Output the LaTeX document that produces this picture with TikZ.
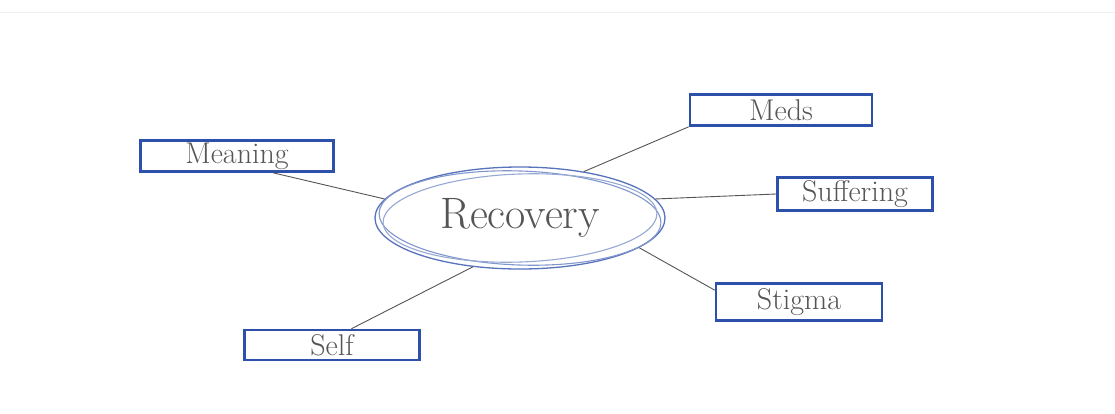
\documentclass[tikz,border=0pt]{standalone}
\usepackage{tikz}
\usetikzlibrary{shapes.geometric}
\definecolor{penblue}{RGB}{45,80,170}
\definecolor{pencil}{RGB}{85,85,85}

\begin{document}
\begin{tikzpicture}[x=1pt,y=-1pt,
  topic/.style={draw=penblue,line width=2.6pt,fill=white,inner sep=0pt,minimum height=31pt,text=pencil,font=\fontsize{30}{30}\selectfont},
  link/.style={draw=pencil,line width=0.9pt}]
  \useasboundingbox (0,0) rectangle (1115,413);
  \fill[white] (0,0) rectangle (1115,413);
  \draw[gray!12,line width=1pt] (0,12) -- (1115,12);
  % Central idea, sketched with several strokes
  \node[ellipse,draw=penblue!80,line width=1.3pt,minimum width=290pt,minimum height=102pt,inner sep=0pt,text=pencil,font=\fontsize{44}{44}\selectfont] (rec) at (520,218) {Recovery};
  \draw[penblue!60,line width=1.1pt,rotate around={-2:(rec.center)}] (rec.center) ellipse [x radius=141,y radius=47];
  \draw[penblue!50,line width=1.1pt,rotate around={2:(rec.center)}] (rec.center) ellipse [x radius=137,y radius=44];
  % Topic boxes
  \node[topic,minimum width=193pt] (mean) at (237,156) {Meaning};
  \node[topic,minimum width=182pt] (meds) at (781,110) {Meds};
  \node[topic,minimum width=155pt,minimum height=33pt] (suf) at (855,194) {Suffering};
  \node[topic,minimum width=166pt,minimum height=37pt] (stig) at (799,302) {Stigma};
  \node[topic,minimum width=175pt,minimum height=30pt] (self) at (332,345) {Self};
  % Links to the centre
  \draw[link] (mean.335) -- (rec.172);
  \draw[link] (meds.south west) -- (rec.36);
  \draw[link] (suf.west) -- (rec.8);
  \draw[link] (stig.172) -- (rec.346);
  \draw[link] (self.40) -- (rec.226);
\end{tikzpicture}
\end{document}
